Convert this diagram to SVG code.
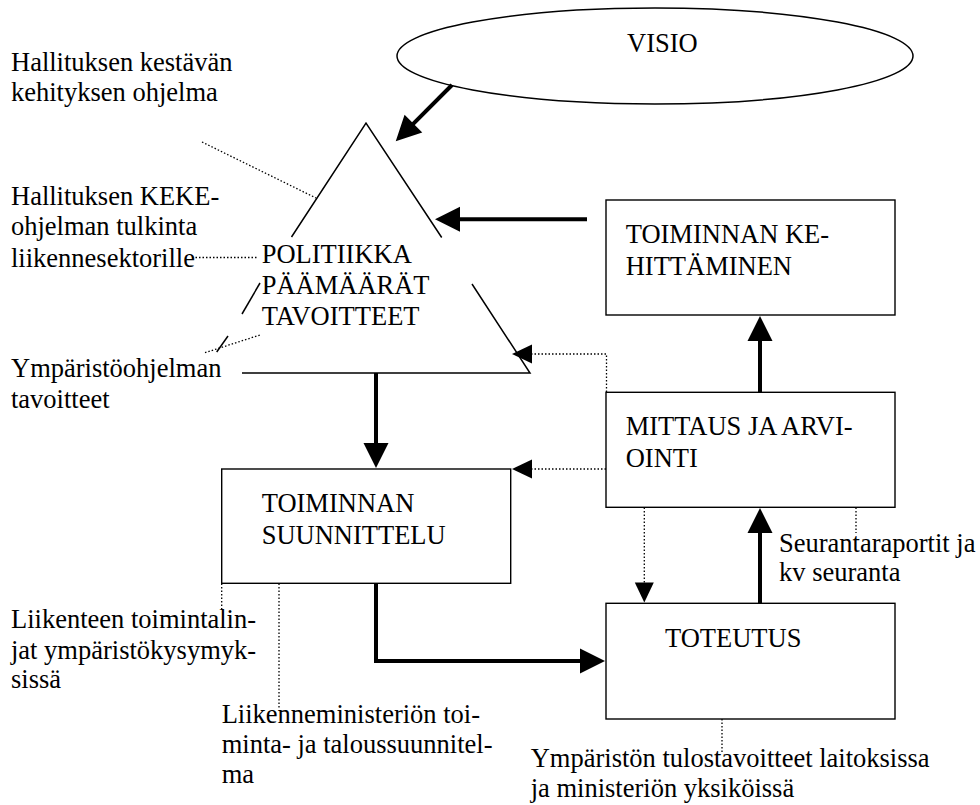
<svg xmlns="http://www.w3.org/2000/svg" width="980" height="805" viewBox="0 0 980 805">
<style>
text{font-family:"Liberation Serif","Times New Roman",serif;font-size:26.5px;fill:#000}
.box{fill:#fff;stroke:#000;stroke-width:1.4}
.tri{fill:none;stroke:#000;stroke-width:1.5}
.thick{fill:none;stroke:#000;stroke-width:4}
.dot{fill:none;stroke:#000;stroke-width:1.3;stroke-dasharray:1.5 2}
</style>
<defs>
<marker id="ah" markerUnits="userSpaceOnUse" markerWidth="26" markerHeight="26" refX="1" refY="12.5" orient="auto" overflow="visible">
<path d="M0,0 L25,12.5 L0,25 z" fill="#000"/>
</marker>
<marker id="ahd" markerUnits="userSpaceOnUse" markerWidth="21" markerHeight="20" refX="1" refY="9.5" orient="auto" overflow="visible">
<path d="M0,0 L20,9.5 L0,19 z" fill="#000"/>
</marker>
</defs>
<rect width="980" height="805" fill="#fff"/>

<g id="visio">
<ellipse cx="655" cy="56" rx="258" ry="48" fill="#fff" stroke="#000" stroke-width="1.5"/>
<text x="627" y="52">VISIO</text>
</g>

<g id="politiikka">
<path class="tri" d="M291.5,237 L366,123 L441.7,237.5"/>
<path class="tri" d="M472,284 L530,373 L242,373"/>
<path class="tri" d="M260,283 L242,314"/>
<path class="tri" d="M228,336 L216.7,352"/>
<text x="261.7" y="263">POLITIIKKA</text>
<text x="261.7" y="294">PÄÄMÄÄRÄT</text>
<text x="261.7" y="325">TAVOITTEET</text>
</g>

<g id="kehittaminen">
<rect class="box" x="606" y="200" width="289" height="115"/>
<text x="625.7" y="243">TOIMINNAN KE-</text>
<text x="625.7" y="275">HITTÄMINEN</text>
</g>

<g id="mittaus">
<rect class="box" x="606" y="392.3" width="289" height="115"/>
<text x="625.7" y="435">MITTAUS JA ARVI-</text>
<text x="625.7" y="467">OINTI</text>
</g>

<g id="suunnittelu">
<rect class="box" x="221.7" y="469" width="289" height="114.3"/>
<text x="261.7" y="511.7">TOIMINNAN</text>
<text x="261.7" y="544">SUUNNITTELU</text>
</g>

<g id="toteutus">
<rect class="box" x="606" y="603.3" width="289" height="115.7"/>
<text x="665" y="646.7">TOTEUTUS</text>
</g>

<g id="labels">
<text x="11" y="71">Hallituksen kestävän</text>
<text x="11" y="101">kehityksen ohjelma</text>
<text x="11" y="205">Hallituksen KEKE-</text>
<text x="11" y="235">ohjelman tulkinta</text>
<text x="11" y="266.5">liikennesektorille</text>
<text x="11" y="376.5">Ympäristöohjelman</text>
<text x="11" y="408">tavoitteet</text>
<text x="11" y="628">Liikenteen toimintalin-</text>
<text x="11" y="659">jat ympäristökysymyk-</text>
<text x="11" y="688">sissä</text>
<text x="221.7" y="723">Liikenneministeriön toi-</text>
<text x="221.7" y="753">minta- ja taloussuunnitel-</text>
<text x="221.7" y="783">ma</text>
<text x="779" y="551.7">Seurantaraportit ja</text>
<text x="779" y="581">kv seuranta</text>
<text x="530.7" y="766.7">Ympäristön tulostavoitteet laitoksissa</text>
<text x="530.7" y="796.7">ja ministeriön yksiköissä</text>
</g>

<g id="connectors">
<line class="thick" x1="452" y1="85" x2="412.7" y2="124.3" marker-end="url(#ah)"/>
<line class="thick" x1="587" y1="219.3" x2="459" y2="219.3" marker-end="url(#ah)"/>
<line class="thick" x1="376" y1="373" x2="376" y2="444" marker-end="url(#ah)"/>
<path class="thick" d="M376,583 V661 H581" marker-end="url(#ah)"/>
<line class="thick" x1="760" y1="603" x2="760" y2="532" marker-end="url(#ah)"/>
<line class="thick" x1="760" y1="392" x2="760" y2="340" marker-end="url(#ah)"/>
<path class="dot" d="M606.5,392 V354 H531" marker-end="url(#ahd)"/>
<line class="dot" x1="606" y1="469" x2="531" y2="469" marker-end="url(#ahd)"/>
<line class="dot" x1="644.3" y1="507.5" x2="644.3" y2="583.5" marker-end="url(#ahd)"/>
<line class="dot" x1="202" y1="142" x2="316" y2="198"/>
<line class="dot" x1="192" y1="257.5" x2="258" y2="257.5"/>
<line class="dot" x1="205" y1="352.7" x2="260" y2="335"/>
<line class="dot" x1="856" y1="507.5" x2="856" y2="533"/>
<line class="dot" x1="722" y1="719" x2="722" y2="753"/>
<line class="dot" x1="221.7" y1="583.5" x2="221.7" y2="610"/>
<line class="dot" x1="279" y1="583.5" x2="279" y2="708"/>
</g>
</svg>
